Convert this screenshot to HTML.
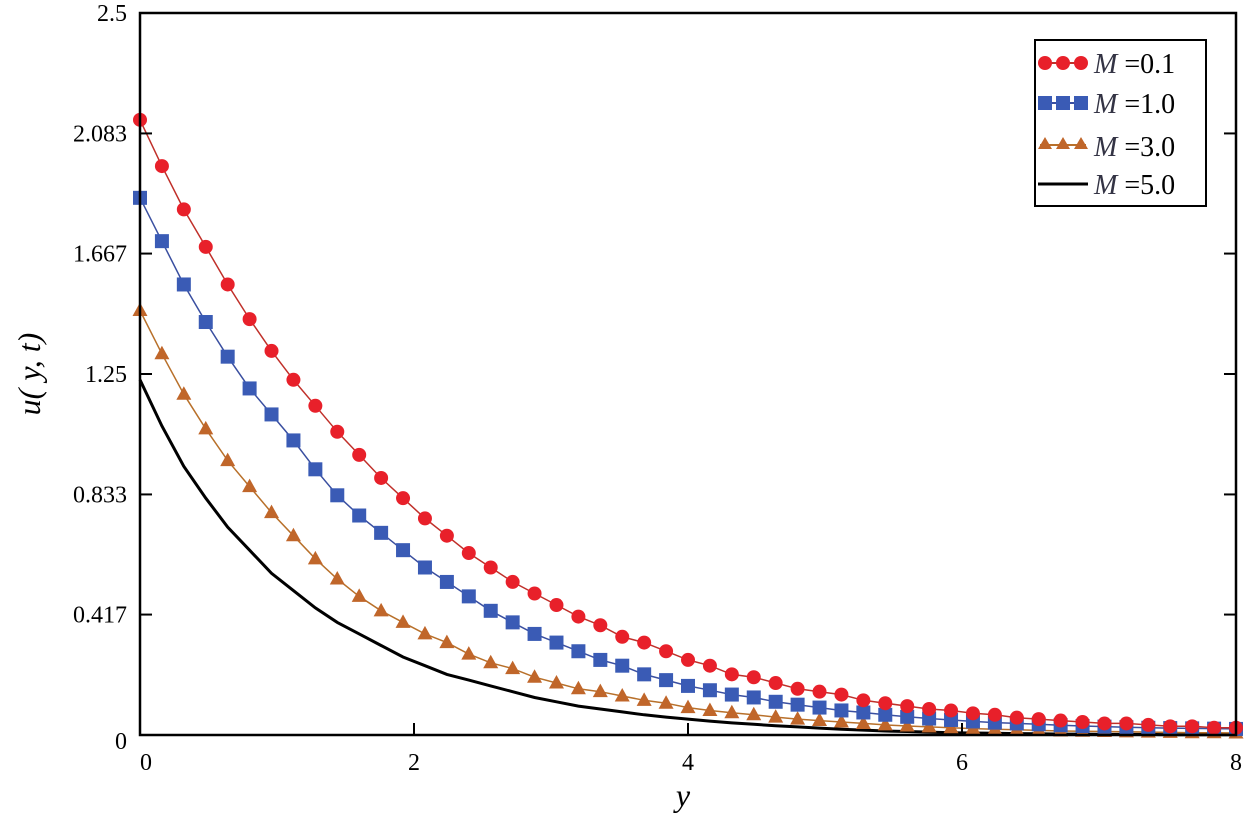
<!DOCTYPE html>
<html><head><meta charset="utf-8"><style>
body{margin:0;background:#fff;}
svg text{font-family:"Liberation Serif",serif;}
</style></head><body>
<svg id="chart" width="1250" height="822" viewBox="0 0 1250 822" xmlns="http://www.w3.org/2000/svg">
<g id="plot"></g>
<g id="axes"></g>
<text x="40" y="374" font-size="32" font-style="italic" text-anchor="middle" transform="rotate(-90 40 374)">u( y, t)</text>
<text x="683" y="806" font-size="32" font-style="italic" text-anchor="middle">y</text>
<g>
<rect x="1035" y="40" width="171" height="166" fill="#fff" stroke="#000" stroke-width="2"/>
<g>
<line x1="1040" y1="63" x2="1086" y2="63" stroke="#c0302a" stroke-width="2"/>
<circle cx="1045" cy="63" r="7" fill="#e8202a"/><circle cx="1063" cy="63" r="7" fill="#e8202a"/><circle cx="1081" cy="63" r="7" fill="#e8202a"/>
<text x="1094" y="73" font-size="28"><tspan font-style="italic" fill="#334">M</tspan> =0.1</text></g>
<g>
<line x1="1040" y1="103" x2="1086" y2="103" stroke="#3a4fa0" stroke-width="2"/>
<rect x="1038" y="96" width="14" height="14" fill="#3a5bb5"/><rect x="1056" y="96" width="14" height="14" fill="#3a5bb5"/><rect x="1074" y="96" width="14" height="14" fill="#3a5bb5"/>
<text x="1094" y="113" font-size="28"><tspan font-style="italic" fill="#334">M</tspan> =1.0</text></g>
<g>
<line x1="1040" y1="145" x2="1086" y2="145" stroke="#b8702a" stroke-width="2"/>
<polygon points="1045,137 1052,149 1038,149" fill="#c0662a"/><polygon points="1063,137 1070,149 1056,149" fill="#c0662a"/><polygon points="1081,137 1088,149 1074,149" fill="#c0662a"/>
<text x="1094" y="156" font-size="28"><tspan font-style="italic" fill="#334">M</tspan> =3.0</text></g>
<g>
<line x1="1038" y1="184" x2="1088" y2="184" stroke="#000" stroke-width="3"/>
<text x="1094" y="194" font-size="28"><tspan font-style="italic" fill="#334">M</tspan> =5.0</text></g>
</g>
</svg>
<script>
const xs=[0,0.16,0.32,0.48,0.64,0.8,0.96,1.12,1.28,1.44,1.6,1.76,1.92,2.08,2.24,2.4,2.56,2.72,2.88,3.04,3.2,3.36,3.52,3.68,3.84,4,4.16,4.32,4.48,4.64,4.8,4.96,5.12,5.28,5.44,5.6,5.76,5.92,6.08,6.24,6.4,6.56,6.72,6.88,7.04,7.2,7.36,7.52,7.68,7.84,8];
const m01=[2.13,1.97,1.82,1.69,1.56,1.44,1.33,1.23,1.14,1.05,0.97,0.89,0.82,0.75,0.69,0.63,0.58,0.53,0.49,0.45,0.41,0.38,0.34,0.32,0.29,0.26,0.24,0.21,0.20,0.18,0.16,0.15,0.14,0.12,0.11,0.10,0.09,0.085,0.075,0.07,0.06,0.055,0.05,0.045,0.04,0.04,0.035,0.03,0.03,0.025,0.025];
const m10=[1.86,1.71,1.56,1.43,1.31,1.20,1.11,1.02,0.92,0.83,0.76,0.70,0.64,0.58,0.53,0.48,0.43,0.39,0.35,0.32,0.29,0.26,0.24,0.21,0.19,0.17,0.155,0.14,0.13,0.115,0.105,0.095,0.085,0.078,0.07,0.063,0.057,0.052,0.047,0.043,0.04,0.037,0.034,0.031,0.029,0.027,0.025,0.024,0.023,0.022,0.021];
const m30=[1.47,1.32,1.18,1.06,0.95,0.86,0.77,0.69,0.61,0.54,0.48,0.43,0.39,0.35,0.32,0.28,0.25,0.23,0.20,0.18,0.16,0.15,0.135,0.12,0.11,0.095,0.085,0.077,0.07,0.062,0.055,0.05,0.045,0.04,0.035,0.031,0.028,0.025,0.022,0.02,0.018,0.016,0.014,0.013,0.012,0.011,0.01,0.009,0.008,0.008,0.007];
const m50=[1.23,1.07,0.93,0.82,0.72,0.64,0.56,0.50,0.44,0.39,0.35,0.31,0.27,0.24,0.21,0.19,0.17,0.15,0.13,0.115,0.10,0.09,0.08,0.07,0.062,0.055,0.048,0.042,0.037,0.032,0.028,0.024,0.02,0.017,0.014,0.012,0.01,0.008,0.007,0.006,0.005,0.004,0.003,0.003,0.002,0.002,0.002,0.001,0.001,0.001,0.001];
const yTicks=[0,0.417,0.833,1.25,1.667,2.083,2.5];
const yTickLabels=["0","0.417","0.833","1.25","1.667","2.083","2.5"];
const xTicks=[0,2,4,6,8];
const xTickLabels=["0","2","4","6","8"];
const L=140,R=1236,T=13,B=735;
const sx=v=>L+(v/8)*(R-L), sy=v=>B-(v/2.5)*(B-T);
const NS="http://www.w3.org/2000/svg";
const plot=document.getElementById('plot'), axes=document.getElementById('axes');
function mk(t,a,p){const e=document.createElementNS(NS,t);for(const k in a)e.setAttribute(k,a[k]);p.appendChild(e);return e;}
function series(vals,color,lineColor,shape,name,lw){
  const g=mk('g',{},plot);
  
  
  const pts=vals.map((v,i)=>sx(xs[i]).toFixed(1)+','+sy(v).toFixed(1)).join(' ');
  const pl=mk('polyline',{points:pts,fill:'none',stroke:lineColor,'stroke-width':lw},g);
  
  
  if(!shape)return;
  vals.forEach((v,i)=>{const x=sx(xs[i]),y=sy(v);let m;
    if(shape==='c')m=mk('circle',{cx:x,cy:y,r:7,fill:color},g);
    else if(shape==='s')m=mk('rect',{x:x-7,y:y-7,width:14,height:14,fill:color},g);
    else m=mk('polygon',{points:`${x},${y-8} ${x+7.5},${y+5.5} ${x-7.5},${y+5.5}`,fill:color},g);
    
    
  });
}
series(m50,null,'#000',null,'series-m50',3);
series(m30,'#c0662a','#b8702a','t','series-m30',1.5);
series(m10,'#3a5bb5','#3a4fa0','s','series-m10',1.5);
series(m01,'#e8202a','#c0302a','c','series-m01',1.5);
const fr=mk('rect',{x:L,y:T,width:R-L,height:B-T,fill:'none',stroke:'#000','stroke-width':2.5},axes);


yTicks.forEach((v,i)=>{const y=sy(v);
  if(i>0&&i<yTicks.length-1){mk('line',{x1:L,y1:y,x2:L+12,y2:y,stroke:'#000','stroke-width':2},axes);mk('line',{x1:R,y1:y,x2:R-12,y2:y,stroke:'#000','stroke-width':2},axes);}
  const t=mk('text',{x:127,y:(i===0?y+14:y+8),'font-size':24,'text-anchor':'end'},axes);t.textContent=yTickLabels[i];
  
  
});
xTicks.forEach((v,i)=>{const x=sx(v);
  if(i>0&&i<xTicks.length-1){mk('line',{x1:x,y1:B,x2:x,y2:B-12,stroke:'#000','stroke-width':2},axes);}
  const t=mk('text',{x:(i===0?x+6:x),y:770,'font-size':24,'text-anchor':'middle'},axes);t.textContent=xTickLabels[i];
  
  
});
</script>
</body></html>
